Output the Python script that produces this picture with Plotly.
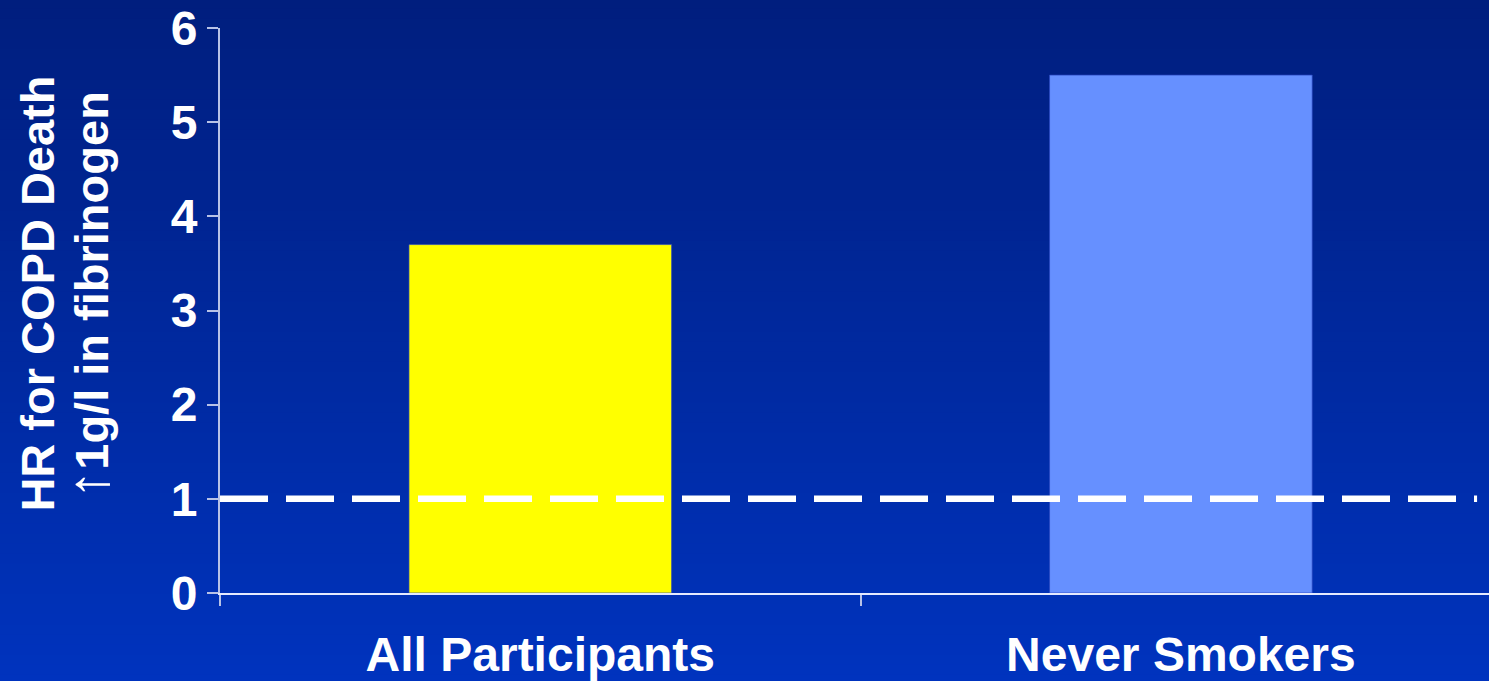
import plotly.graph_objects as go

# Hazard ratio for COPD death per 1 g/l rise in fibrinogen
categories = ["All Participants", "Never Smokers"]
hazard_ratios = [3.7, 5.5]
bar_colors = ["#FFFF00", "#6690FF"]
reference_hr = 1.0
y_ticks = [0, 1, 2, 3, 4, 5, 6]

W, H = 1489, 681
FONT = "Arial, 'Liberation Sans', sans-serif"

fig = go.Figure()

fig.add_trace(go.Bar(
    x=categories,
    y=hazard_ratios,
    width=0.41,
    marker=dict(color=bar_colors, line=dict(color="rgba(40,70,190,0.7)", width=1)),
    hoverinfo="x+y",
))

# vertical background gradient (dark navy at top -> brighter blue at bottom)
top_rgb = (0, 30, 126)
bot_rgb = (0, 52, 192)
n_strips = 70
shapes = []
for i in range(n_strips):
    t = (i + 0.5) / n_strips
    r = round(top_rgb[0] + (bot_rgb[0] - top_rgb[0]) * t)
    g = round(top_rgb[1] + (bot_rgb[1] - top_rgb[1]) * t)
    b = round(top_rgb[2] + (bot_rgb[2] - top_rgb[2]) * t)
    y_top = 1 - i / n_strips
    y_bot = 1 - (i + 1) / n_strips
    shapes.append(dict(
        type="rect", xref="paper", yref="paper", layer="below",
        x0=-0.2, x1=1.05,
        y0=-0.2 + y_bot * 1.25, y1=-0.2 + y_top * 1.25 + 0.002,
        fillcolor=f"rgb({r},{g},{b})", line=dict(width=0),
    ))

# dashed reference line at HR = 1
shapes.append(dict(
    type="line", xref="paper", yref="y", layer="above",
    x0=0, x1=0.9906, y0=reference_hr, y1=reference_hr,
    line=dict(color="white", width=6.5, dash="48px,18px"),
))

margin_l, margin_r, margin_t, margin_b = 219.5, 0, 28, 87.7

fig.update_layout(
    width=W, height=H,
    margin=dict(l=margin_l, r=margin_r, t=margin_t, b=margin_b, pad=0),
    paper_bgcolor="rgb(0,40,160)",
    plot_bgcolor="rgba(0,0,0,0)",
    showlegend=False,
    shapes=shapes,
    font=dict(family=FONT, color="white"),
    xaxis=dict(
        type="category",
        range=[-0.5, 1.481],
        tickson="boundaries",
        ticks="outside", ticklen=11, tickwidth=2, tickcolor="#B8C2E6",
        showline=True, linecolor="#E4EAFF", linewidth=2,
        showgrid=False, zeroline=False,
        tickfont=dict(family=FONT, size=48, color="white", weight="bold"),
        ticklabelstandoff=18,
    ),
    yaxis=dict(
        range=[0, 6],
        tickvals=y_ticks,
        ticks="outside", ticklen=11, tickwidth=2, tickcolor="#B8C2E6",
        showline=True, linecolor="#B8C2E6", linewidth=2,
        showgrid=False, zeroline=False,
        tickfont=dict(family=FONT, size=48, color="white", weight="bold"),
        ticklabelstandoff=0,
    ),
)

# y-axis title, two rotated lines
fig.add_annotation(
    text="<b>HR for COPD Death</b>",
    xref="paper", yref="paper", x=0, y=0.529,
    xanchor="center", yanchor="middle",
    xshift=-(margin_l - 37), textangle=-90, showarrow=False,
    font=dict(family=FONT, size=47, color="white"),
)
fig.add_annotation(
    text="<span style='font-weight:normal;font-size:58px'>\u2191</span><b>1g/l in fibrinogen</b>",
    xref="paper", yref="paper", x=0, y=0.527,
    xanchor="center", yanchor="middle",
    xshift=-(margin_l - 87), textangle=-90, showarrow=False,
    font=dict(family=FONT, size=47, color="white"),
)

fig.write_html("out.html")
